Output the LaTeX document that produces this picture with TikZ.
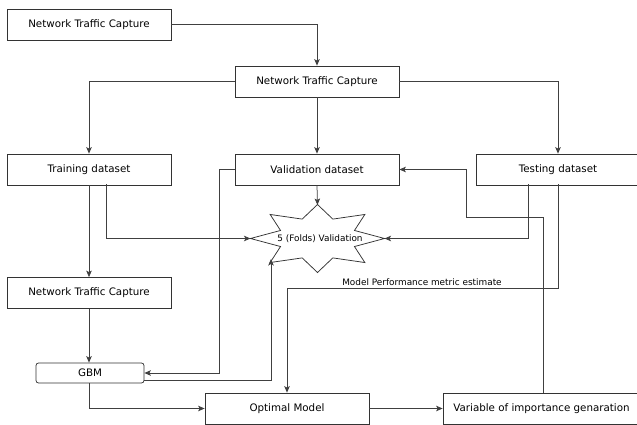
\documentclass[tikz,border=0pt]{standalone}
\usepackage{fontspec}
\setmainfont{DejaVu Sans}
\usetikzlibrary{arrows.meta,calc}
\begin{document}
\begin{tikzpicture}[x=1pt,y=-1pt,
  every node/.style={font=\fontsize{10.3}{12}\selectfont},
  box/.style={draw=black!80,line width=0.75pt,minimum width=164pt,minimum height=31pt,inner sep=0pt},
  gbmbox/.style={draw=black!80,line width=0.75pt,rounded corners=2.5pt,minimum width=108pt,minimum height=20pt,inner sep=0pt},
  conn/.style={draw=black!75,line width=0.75pt},
  arr/.style={conn,-{Stealth[length=6.5pt,width=5.5pt,inset=1.5pt]}},
  small/.style={font=\fontsize{8.9}{10}\selectfont,inner sep=0pt}]
\useasboundingbox (0,0) rectangle (637,425);
\begin{scope}
\clip (0,0) rectangle (637,425);
% boxes
\node[box] (cap1) at (89,24.5) {Network Traffic Capture};
\node[box] (cap2) at (317,81.5) {Network Traffic Capture};
\node[box] (train) at (89,169.5) {Training dataset};
\node[box] (val) at (317,169.5) {Validation dataset};
\node[box] (test) at (558,169.5) {Testing dataset};
\node[box] (cap3) at (89,293) {Network Traffic Capture};
\node[gbmbox] (gbm) at (90,373) {GBM};
\node[box] (opt) at (287,408.5) {Optimal Model};
\node[box,minimum width=197pt] (var) at (541.5,408.5) {Variable of importance genaration};
% star
\draw[draw=black!80,line width=0.75pt,shift={(317.5,238.5)}]
  (0:67 and 34) -- (22.5:40 and 21) -- (45:67 and 34) -- (67.5:40 and 21) --
  (90:67 and 34) -- (112.5:40 and 21) -- (135:67 and 34) -- (157.5:40 and 21) --
  (180:67 and 34) -- (202.5:40 and 21) -- (225:67 and 34) -- (247.5:40 and 21) --
  (270:67 and 34) -- (292.5:40 and 21) -- (315:67 and 34) -- (337.5:40 and 21) -- cycle;
\node[small] (star) at (320,238.5) {5 (Folds) Validation};
\coordinate (sL) at (250.5,238.5);
\coordinate (sR) at (384.5,238.5);
\coordinate (sT) at (317.5,205);
\coordinate (sBL) at (271,259);
% helper coordinates
\coordinate (trB) at (106,184);
\coordinate (teB1) at (528,184);
\coordinate (teB2) at (558,184);
\coordinate (vaW) at (219,169.5);
\coordinate (gbE2) at (144,380);
\coordinate (perfR) at (558,288);
\coordinate (perfL) at (287,288);
\coordinate (varT) at (543,393);
\coordinate (loopA) at (543,217);
\coordinate (loopB) at (466,217);
\coordinate (loopC) at (466,169.5);
% connectors
\draw[arr] (cap1.east) -| (cap2.north);
\draw[arr] (cap2.west) -| (train.north);
\draw[arr] (cap2.east) -| (test.north);
\draw[arr] (cap2.south) -- (val.north);
\draw[arr] (train.south) -- (cap3.north);
\draw[arr] (trB) |- (sL);
\draw[arr] (val.south) -- (sT);
\draw[arr] (teB1) |- (sR);
\draw[arr] (val.west) -- (vaW) |- (gbm.east);
\draw[arr] (gbE2) -| (sBL);
\draw[arr] (cap3.south) -- (gbm.north -| cap3.south);
\draw[arr] (gbm.south -| cap3.south) |- (opt.west);
\draw[arr] (teB2) -- (perfR) -- (perfL) -- (opt.north);
\draw[arr] (opt.east) -- (var.west);
\draw[arr] (varT) -- (loopA) -- (loopB) -- (loopC) -- (val.east);
\node[small] (perf) at (422,282) {Model Performance metric estimate};
\end{scope}
\end{tikzpicture}
\end{document}
